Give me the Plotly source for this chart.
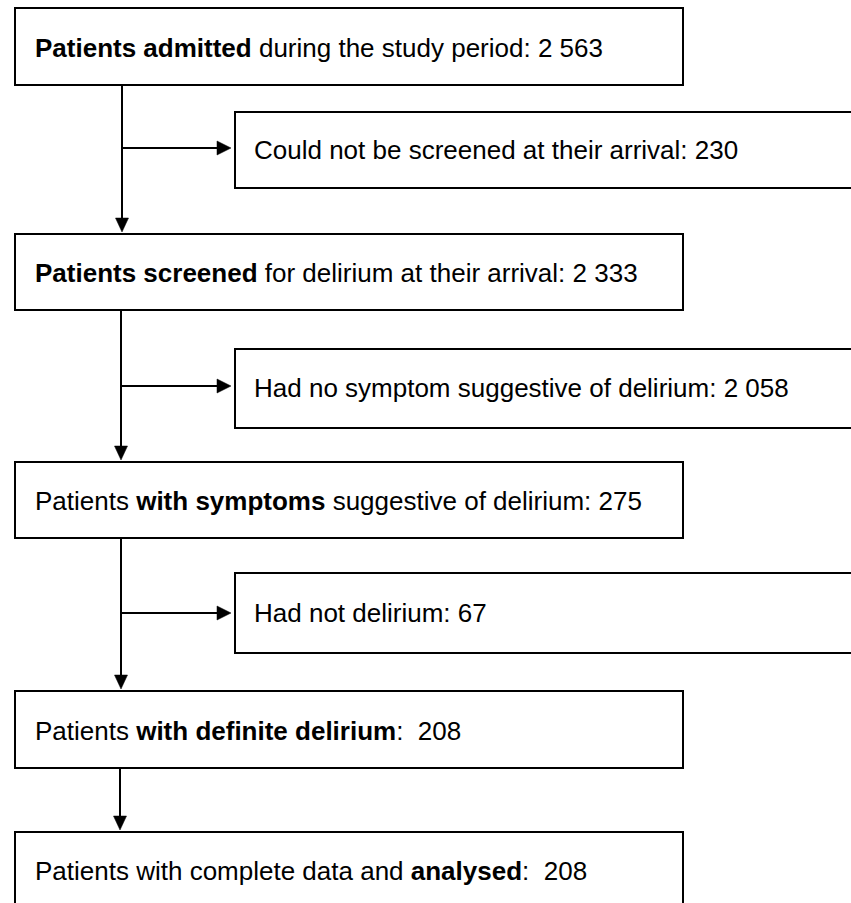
import plotly.graph_objects as go

# ---- data: flowchart steps ----
main_labels = [
    "<b>Patients admitted</b> during the study period: 2 563",
    "<b>Patients screened</b> for delirium at their arrival: 2 333",
    "Patients <b>with symptoms</b> suggestive of delirium: 275",
    "Patients <b>with definite delirium</b>:  208",
    "Patients with complete data and <b>analysed</b>:  208",
]
side_labels = [
    "Could not be screened at their arrival: 230",
    "Had no symptom suggestive of delirium: 2 058",
    "Had not delirium: 67",
]

W, H = 851, 903
FONT = dict(family="Liberation Sans, Arial, sans-serif", size=26, color="black")

# layout geometry (pixels, y downward)
main_boxes = [(8, 85), (234, 310), (462, 538), (691, 768), (832, 910)]
main_text_y = [48, 273, 501, 731, 871]
side_boxes = [(112, 188), (349, 428), (573, 653)]
side_text_y = [150, 388, 613]
main_x0, main_x1 = 15, 683
side_x0, side_x1 = 235, 870
trunk_x = [122, 121, 121, 120]
branch_y = [148, 386, 613]

fig = go.Figure()
shapes = []
annotations = []
LW = 2

def rect(x0, y0, x1, y1):
    shapes.append(dict(type="rect", xref="x", yref="y", x0=x0, x1=x1, y0=y0, y1=y1,
                       line=dict(color="black", width=LW), fillcolor="white", layer="above"))

def line(x0, y0, x1, y1):
    shapes.append(dict(type="line", xref="x", yref="y", x0=x0, x1=x1, y0=y0, y1=y1,
                       line=dict(color="black", width=LW), layer="above"))

def tri_down(x, ytip):
    shapes.append(dict(type="path", xref="x", yref="y",
                       path=f"M {x-6.5},{ytip-14} L {x+6.5},{ytip-14} L {x},{ytip} Z",
                       fillcolor="black", line=dict(color="black", width=0.5), layer="above"))

def tri_right(xtip, y):
    shapes.append(dict(type="path", xref="x", yref="y",
                       path=f"M {xtip-14},{y-7} L {xtip-14},{y+7} L {xtip},{y} Z",
                       fillcolor="black", line=dict(color="black", width=0.5), layer="above"))

for (y0, y1), ty, lab in zip(main_boxes, main_text_y, main_labels):
    rect(main_x0, y0, main_x1, y1)
    annotations.append(dict(x=main_x0 + 18, y=ty, xref="x", yref="y", text=lab,
                            showarrow=False, xanchor="left", yanchor="middle", font=FONT))

for (y0, y1), ty, lab in zip(side_boxes, side_text_y, side_labels):
    rect(side_x0, y0, side_x1, y1)
    annotations.append(dict(x=side_x0 + 17, y=ty, xref="x", yref="y", text=lab,
                            showarrow=False, xanchor="left", yanchor="middle", font=FONT))

# connectors
for i in range(4):
    x = trunk_x[i]
    ytop = main_boxes[i][1]
    ytip = main_boxes[i + 1][0] - 2
    line(x, ytop, x, ytip - 12)
    tri_down(x, ytip)
    if i < 3:
        by = branch_y[i]
        line(x, by, side_x0 - 18, by)
        tri_right(side_x0 - 4, by)

fig.update_layout(
    width=W, height=H,
    margin=dict(l=0, r=0, t=0, b=0),
    paper_bgcolor="white", plot_bgcolor="white",
    xaxis=dict(range=[0, W], visible=False, fixedrange=True),
    yaxis=dict(range=[H, 0], visible=False, fixedrange=True),
    shapes=shapes, annotations=annotations, showlegend=False,
)
fig.write_html(
    "out.html",
    config=dict(displayModeBar=False),
    post_script="document.body.style.margin='0';document.body.style.overflow='hidden';",
)
